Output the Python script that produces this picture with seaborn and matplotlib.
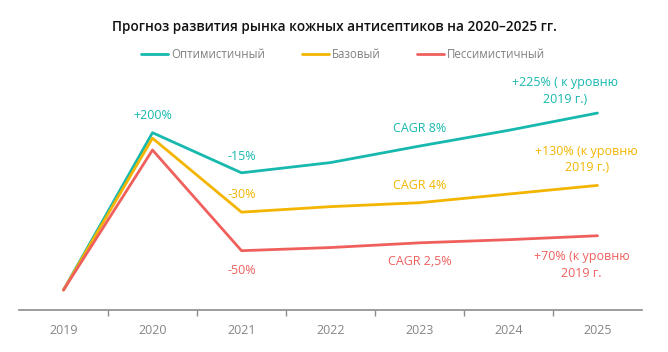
import matplotlib
matplotlib.use("Agg")
import matplotlib.pyplot as plt
import seaborn as sns
import pandas as pd
from matplotlib.lines import Line2D
from matplotlib.ticker import FixedLocator

years = ["2019", "2020", "2021", "2022", "2023", "2024", "2025"]
optimistic = [100, 300, 249, 262, 283, 303, 325]
base = [100, 293, 199, 206, 211, 222, 233]
pessimistic = [100, 278, 150, 154, 160, 164, 169]
series_names = ["Оптимистичный", "Базовый", "Пессимистичный"]
colors = ["#17B8AE", "#F3B500", "#EF605D"]

sns.set_theme(style="white")
plt.rcParams["font.family"] = ["Open Sans", "DejaVu Sans"]

rows = []
for name, vals in zip(series_names, [optimistic, base, pessimistic]):
    for y, v in zip(years, vals):
        rows.append({"year": y, "value": v, "series": name})
df = pd.DataFrame(rows)

fig = plt.figure(figsize=(6.68, 3.52), dpi=100)
ax = fig.add_axes([19/668, 1-310/352, (642-19)/668, (310-80)/352])

sns.lineplot(data=df, x="year", y="value", hue="series", palette=colors,
             hue_order=series_names, linewidth=2, ax=ax, legend=False, sort=False)

ax.set_xlim(-0.5, 6.5)
ax.set_ylim(74.6, 367)
ax.set_xlabel("")
ax.set_ylabel("")
ax.set_yticks([])
for s in ["top", "left", "right"]:
    ax.spines[s].set_visible(False)
ax.spines["bottom"].set_color("#8c8c8c")
ax.spines["bottom"].set_linewidth(1.2)
ax.set_xticks(range(len(years)))
ax.set_xticklabels(years, color="#858585", fontsize=9)
ax.tick_params(axis="x", which="major", length=0, pad=10)
ax.xaxis.set_minor_locator(FixedLocator([i + 0.5 for i in range(len(years) - 1)]))
ax.tick_params(axis="x", which="minor", length=4, color="#8c8c8c", width=1, bottom=True)

fs = 9
ann = [
    ("+200%", 1, 322, colors[0]),
    ("-15%", 2, 270, colors[0]),
    ("-30%", 2, 222, colors[1]),
    ("-50%", 2, 125, colors[2]),
    ("CAGR 8%", 4, 305, colors[0]),
    ("CAGR 4%", 4, 233, colors[1]),
    ("CAGR 2,5%", 4, 136, colors[2]),
    ("+225% ( к уровню\n2019 г.)", 5.63, 353, colors[0]),
    ("+130% (к уровню\n2019 г.)", 5.88, 266, colors[1]),
    ("+70% (к уровню\n2019 г.", 5.82, 132, colors[2]),
]
for t, x, y, c in ann:
    ax.text(x, y, t, color=c, fontsize=fs, ha="center", va="center",
            multialignment="center", linespacing=1.35)

fig.text(0.5, 1-27/352, "Прогноз развития рынка кожных антисептиков на 2020–2025 гг.",
         ha="center", va="center", fontsize=9.8, fontweight="semibold", color="#111111")

handles = [Line2D([0], [0], color=c, lw=2) for c in colors]
fig.legend(handles, series_names, loc="center", bbox_to_anchor=(0.5135, 1-55/352),
           ncol=3, frameon=False, fontsize=8.3, labelcolor="#808080",
           handlelength=2.35, handletextpad=0.25, columnspacing=3.2)

fig.savefig("out.png", dpi=100)
